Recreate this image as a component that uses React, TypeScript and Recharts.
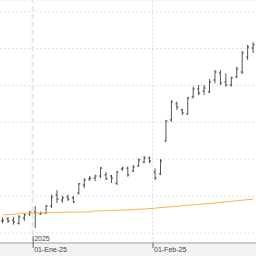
import React from 'react';
import { ComposedChart, Bar, Line, XAxis, YAxis, CartesianGrid, ReferenceLine } from 'recharts';

// trading days, Dec 2024 - Feb 2025
const dates = [
    '2024-12-23', '2024-12-24', '2024-12-26', '2024-12-27', '2024-12-30', '2024-12-31',
    '2025-01-02', '2025-01-03', '2025-01-06', '2025-01-07', '2025-01-08', '2025-01-09', '2025-01-10',
    '2025-01-13', '2025-01-14', '2025-01-15', '2025-01-16', '2025-01-17',
    '2025-01-20', '2025-01-21', '2025-01-22', '2025-01-23', '2025-01-24',
    '2025-01-27', '2025-01-28', '2025-01-29', '2025-01-30', '2025-01-31',
    '2025-02-03', '2025-02-04', '2025-02-05', '2025-02-06', '2025-02-07',
    '2025-02-10', '2025-02-11', '2025-02-12', '2025-02-13', '2025-02-14',
    '2025-02-17', '2025-02-18', '2025-02-19', '2025-02-20', '2025-02-21',
    '2025-02-24', '2025-02-25', '2025-02-26', '2025-02-27',
];

const opens = [
    106.5, 107.6, 107.0, 105.2, 108.1, 110.3, 111.4, 110.3, 110.8, 114.6, 120.6, 117.9, 119.5,
    119.0, 121.7, 126.0, 129.3, 129.8, 130.9, 131.5, 130.9, 127.1, 134.7, 135.2, 133.6, 136.3,
    138.5, 140.7, 133.1, 132.0, 149.9, 161.3, 170.0, 166.7, 164.5, 173.8, 178.1, 177.0, 176.5,
    183.0, 186.8, 181.9, 180.3, 184.6, 187.3, 195.4, 200.3,
];
const highs = [
    108.4, 108.7, 108.7, 109.8, 110.8, 111.9, 114.6, 111.6, 115.3, 120.8, 123.3, 120.1, 120.8,
    120.1, 127.1, 129.8, 130.9, 131.6, 135.8, 133.1, 131.5, 133.6, 136.0, 136.0, 136.9, 140.5,
    141.8, 141.4, 135.1, 140.1, 161.3, 172.1, 171.3, 167.5, 173.8, 179.3, 180.3, 180.3, 183.5,
    188.4, 188.4, 186.6, 184.8, 190.2, 198.7, 202.0, 203.6,
];
const lows = [
    105.2, 105.4, 104.5, 104.6, 106.5, 109.2, 102.7, 109.8, 110.3, 113.6, 116.3, 116.3, 117.4,
    116.3, 120.8, 124.4, 128.2, 128.2, 129.8, 128.7, 127.1, 126.0, 133.6, 130.5, 133.1, 136.0,
    137.8, 137.8, 128.7, 131.5, 149.5, 160.4, 166.7, 164.0, 164.0, 173.0, 174.8, 174.8, 175.9,
    181.2, 180.3, 179.3, 179.3, 183.9, 186.2, 193.8, 197.6,
];
const closes = [
    107.0, 106.5, 106.0, 108.7, 109.8, 111.4, 110.8, 110.8, 114.6, 119.5, 118.4, 119.0, 118.4,
    116.8, 126.6, 128.7, 129.8, 130.9, 135.2, 129.3, 129.8, 133.1, 135.2, 131.5, 135.8, 139.6,
    140.7, 139.0, 129.8, 139.0, 160.7, 171.0, 168.3, 165.1, 173.2, 178.1, 175.9, 178.6, 181.9,
    187.3, 181.3, 180.3, 184.1, 188.9, 197.6, 200.9, 202.0,
];
// moving average
const ma = [
    109.9, 109.9, 110.0, 110.7, 110.8, 110.8, 110.8, 110.9, 111.0, 111.2, 111.2, 111.2, 111.3,
    111.3, 111.3, 111.4, 111.4, 112.0, 112.0, 112.1, 112.1, 112.3, 112.4, 112.5, 112.7, 112.9,
    113.0, 113.2, 113.5, 113.8, 114.0, 114.3, 114.5, 114.8, 115.1, 115.3, 115.5, 115.8, 116.0,
    116.3, 116.6, 116.9, 117.2, 117.5, 117.8, 118.1, 118.4,
];

const yTicks = [100, 110, 120, 130, 140, 150, 160, 170, 180, 190, 200, 210, 220];

// month boundaries shown on the time axis
const monthTickDates = ['2025-01-02', '2025-02-03'];
const monthTickLabels = ['01-Ene-25', '01-Feb-25'];
const yearLabels = ['2025', ''];

const W = 256;
const H = 256;
const BAND = W / dates.length;

const data = dates.map((d, i) => ({
    date: d,
    range: [lows[i], highs[i]],
    open: opens[i],
    close: closes[i],
    ma: ma[i],
}));

const OhlcShape = (props: any) => {
    const { x, y, width, height, payload } = props;
    const [lo, hi] = payload.range;
    const top = Math.min(y, y + height);
    const h = Math.abs(height);
    const py = (v: number) => top + ((hi - v) / (hi - lo)) * h;
    const cx = x + width / 2;
    return (
        <g strokeWidth={1}>
            <line x1={cx} x2={cx} y1={top} y2={top + h} stroke="#555" />
            <line x1={cx - 1.5} x2={cx} y1={py(payload.open)} y2={py(payload.open)} stroke="#333" />
            <line x1={cx} x2={cx + 1.5} y1={py(payload.close)} y2={py(payload.close)} stroke="#333" />
        </g>
    );
};

const MonthTick = (props: any) => {
    const { x, y, payload } = props;
    const idx = monthTickDates.indexOf(payload.value);
    if (idx < 0) return null;
    const lx = x - BAND / 2 + 0.5;
    const year = yearLabels[idx];
    return (
        <g>
            <line x1={lx} x2={lx} y1={year ? y - 7 : y} y2={y + 5} stroke="#666" strokeWidth={1} />
            {year && (
                <text x={lx + 1} y={y - 2} fontSize={7} fill="#444" fontFamily="Liberation Sans, Arial, sans-serif">
                    {year}
                </text>
            )}
            <text x={lx + 1} y={y + 9} fontSize={7} fill="#444" fontFamily="Liberation Sans, Arial, sans-serif">
                {monthTickLabels[idx]}
            </text>
        </g>
    );
};

export default function App() {
    return (
        <div
            style={{
                position: 'absolute',
                left: 0,
                top: 0,
                width: W,
                height: H,
                background: 'linear-gradient(to bottom, #fff 0px, #fff 243px, #f3f3f3 243px, #f3f3f3 256px)',
            }}
        >
            <ComposedChart width={W} height={H} data={data} margin={{ top: 0, right: 0, left: 0, bottom: 0 }}>
                <CartesianGrid vertical={false} stroke="#e2e2e2" strokeDasharray="2 2" />
                <XAxis
                    dataKey="date"
                    height={13}
                    ticks={monthTickDates}
                    interval={0}
                    tick={<MonthTick />}
                    tickLine={false}
                    tickSize={0}
                    tickMargin={0}
                    axisLine={{ stroke: '#a5a5a5' }}
                />
                <YAxis hide domain={[94.58, 226.34]} ticks={yTicks} width={0} />
                <ReferenceLine
                    x={monthTickDates[0]}
                    position="start"
                    stroke="#e6e6e6"
                    strokeWidth={2}
                    strokeDasharray="5 3"
                />
                <ReferenceLine x={monthTickDates[1]} position="start" stroke="#e2e2e2" strokeDasharray="2 2" />
                <Line
                    dataKey="ma"
                    type="linear"
                    stroke="#fbb04f"
                    strokeWidth={1}
                    dot={false}
                    activeDot={false}
                    isAnimationActive={false}
                />
                <Bar dataKey="range" shape={<OhlcShape />} activeBar={false} isAnimationActive={false} />
            </ComposedChart>
        </div>
    );
}
